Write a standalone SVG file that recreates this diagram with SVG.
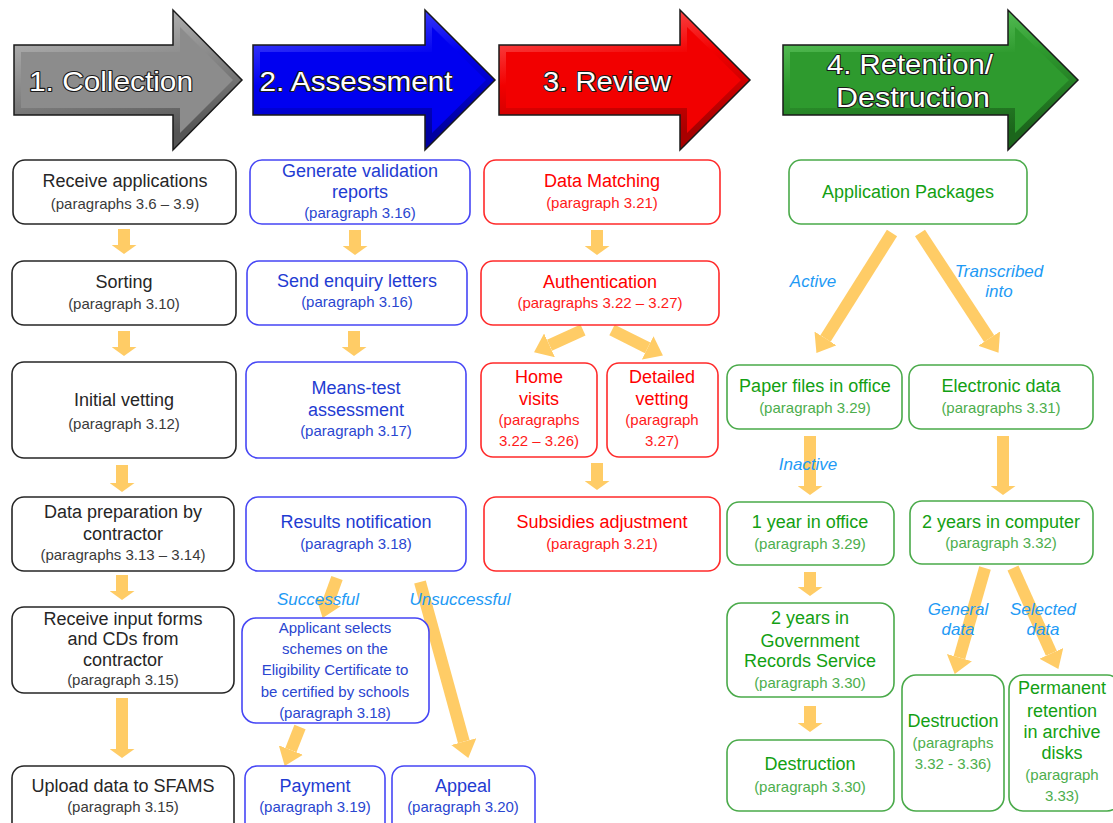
<svg xmlns="http://www.w3.org/2000/svg" width="1113" height="823" viewBox="0 0 1113 823">
<style>
.hd{font-family:"Liberation Sans",Arial,sans-serif;font-size:28px;fill:#fff;stroke:#1a1a1a;stroke-width:2.2px;paint-order:stroke;stroke-linejoin:round;text-anchor:middle}
.box{fill:#fff;stroke-width:1.6px}
.k .box{stroke:#262626}.b .box{stroke:#4646F5}.r .box{stroke:#FF2A2A}.g .box{stroke:#4AAA4A}
text{font-family:"Liberation Sans",Arial,sans-serif;text-anchor:middle}
.m{font-size:18px}.p{font-size:15px}
.k .m{fill:#262626}.k .p{fill:#3a3a3a}
.b .m{fill:#1F3CD2}.b .p{fill:#2A46D0}
.r .m{fill:#FF0000}.r .p{fill:#FF1A1A}
.g .m{fill:#13A013}.g .p{fill:#4DAE4D}
.lb{font-size:17px;font-style:italic;fill:#1E9AF5}
.ar{stroke:#FFCC66;stroke-width:12;fill:none}
</style>
<defs>
<marker id="ah" viewBox="0 -13 17 26" markerWidth="17" markerHeight="26" refX="0" refY="0" orient="auto" markerUnits="userSpaceOnUse"><path d="M0,-13 L17,0 L0,13 Z" fill="#FFCC66"/></marker>
<marker id="av" viewBox="0 -12.5 9 25" markerWidth="9" markerHeight="25" refX="0" refY="0" orient="auto" markerUnits="userSpaceOnUse"><path d="M0,-12.5 L9,0 L0,12.5 Z" fill="#FFCC66"/></marker>
<linearGradient id="gk" x1="0" y1="0" x2="0.3" y2="1"><stop offset="0" stop-color="#C4C4C4"/><stop offset="0.5" stop-color="#8C8C8C"/><stop offset="1" stop-color="#555"/></linearGradient>
<linearGradient id="gb" x1="0" y1="0" x2="0.3" y2="1"><stop offset="0" stop-color="#5A5AFF"/><stop offset="0.5" stop-color="#0000F0"/><stop offset="1" stop-color="#0000A0"/></linearGradient>
<linearGradient id="gr" x1="0" y1="0" x2="0.3" y2="1"><stop offset="0" stop-color="#FF6A6A"/><stop offset="0.5" stop-color="#F20000"/><stop offset="1" stop-color="#A80000"/></linearGradient>
<linearGradient id="gg" x1="0" y1="0" x2="0.3" y2="1"><stop offset="0" stop-color="#6FD46F"/><stop offset="0.5" stop-color="#2E9A2E"/><stop offset="1" stop-color="#1C661C"/></linearGradient>
</defs>

<g id="header1">
<path d="M14,45 H173 V10 L242,80 L173,150 V115 H14 Z" fill="url(#gk)" stroke="#1a1a1a" stroke-width="1.5"/>
<path d="M21,52 H180 V27 L233,80 L180,133 V108 H21 Z" fill="#8C8C8C"/>
<text class="hd" x="111" y="91" textLength="164" lengthAdjust="spacingAndGlyphs">1. Collection</text>
</g>
<g id="header2">
<path d="M253,45 H425 V10 L495,80 L425,150 V115 H253 Z" fill="url(#gb)" stroke="#1a1a1a" stroke-width="1.5"/>
<path d="M260,52 H432 V27 L486,80 L432,133 V108 H260 Z" fill="#0000F0"/>
<text class="hd" x="356" y="91" textLength="193" lengthAdjust="spacingAndGlyphs">2. Assessment</text>
</g>
<g id="header3">
<path d="M499,45 H680 V10 L750,80 L680,150 V115 H499 Z" fill="url(#gr)" stroke="#1a1a1a" stroke-width="1.5"/>
<path d="M506,52 H687 V27 L741,80 L687,133 V108 H506 Z" fill="#F20000"/>
<text class="hd" x="607" y="91" textLength="128" lengthAdjust="spacingAndGlyphs">3. Review</text>
</g>
<g id="header4">
<path d="M783,45 H1008 V10 L1078,80 L1008,150 V115 H783 Z" fill="url(#gg)" stroke="#1a1a1a" stroke-width="1.5"/>
<path d="M790,52 H1015 V27 L1069,80 L1015,133 V108 H790 Z" fill="#2E9A2E"/>
<text class="hd" x="910" y="74" textLength="166" lengthAdjust="spacingAndGlyphs">4. Retention/</text>
<text class="hd" x="913" y="107" textLength="154" lengthAdjust="spacingAndGlyphs">Destruction</text>
</g>

<g id="connectors">
<line class="ar" x1="124" y1="229" x2="124" y2="245" marker-end="url(#av)"/>
<line class="ar" x1="124" y1="331" x2="124" y2="347" marker-end="url(#av)"/>
<line class="ar" x1="122" y1="465" x2="122" y2="483" marker-end="url(#av)"/>
<line class="ar" x1="122" y1="575" x2="122" y2="591" marker-end="url(#av)"/>
<line class="ar" x1="122" y1="698" x2="122" y2="749" marker-end="url(#av)"/>
<line class="ar" x1="355" y1="230" x2="355" y2="246" marker-end="url(#av)"/>
<line class="ar" x1="354" y1="331" x2="354" y2="347" marker-end="url(#av)"/>
<line class="ar" x1="337" y1="578" x2="328.4" y2="601.9" marker-end="url(#ah)"/>
<line class="ar" x1="300" y1="727" x2="290.9" y2="750.1" marker-end="url(#ah)"/>
<line class="ar" x1="420" y1="582" x2="463.8" y2="741.6" marker-end="url(#ah)"/>
<line class="ar" x1="597" y1="230" x2="597" y2="246" marker-end="url(#av)"/>
<line class="ar" x1="583" y1="330" x2="549.5" y2="345.3" marker-end="url(#ah)"/>
<line class="ar" x1="612" y1="330" x2="647.7" y2="347.8" marker-end="url(#ah)"/>
<line class="ar" x1="597" y1="463" x2="597" y2="481" marker-end="url(#av)"/>
<line class="ar" x1="892" y1="233" x2="825.5" y2="338.5" marker-end="url(#ah)"/>
<line class="ar" x1="920" y1="233" x2="989.2" y2="338.6" marker-end="url(#ah)"/>
<line class="ar" x1="810" y1="436" x2="810" y2="486" marker-end="url(#av)"/>
<line class="ar" x1="1003" y1="436" x2="1003" y2="486" marker-end="url(#av)"/>
<line class="ar" x1="810" y1="572" x2="810" y2="587" marker-end="url(#av)"/>
<line class="ar" x1="810" y1="706" x2="810" y2="723" marker-end="url(#av)"/>
<line class="ar" x1="985" y1="568" x2="959.4" y2="657.6" marker-end="url(#ah)"/>
<line class="ar" x1="1013" y1="568" x2="1051.4" y2="653.4" marker-end="url(#ah)"/>
<text class="lb" x="318" y="605">Successful</text>
<text class="lb" x="460" y="605">Unsuccessful</text>
<text class="lb" x="813" y="287">Active</text>
<text class="lb" x="999" y="277">Transcribed</text>
<text class="lb" x="999" y="297">into</text>
<text class="lb" x="808" y="470">Inactive</text>
<text class="lb" x="958" y="615">General</text>
<text class="lb" x="958" y="635">data</text>
<text class="lb" x="1043" y="615">Selected</text>
<text class="lb" x="1043" y="635">data</text>
</g>

<g class="k">
<g id="receive-applications"><rect class="box" x="13" y="160" width="223" height="64" rx="12"/><text class="m" x="125" y="187">Receive applications</text><text class="p" x="125" y="209">(paragraphs 3.6 – 3.9)</text></g>
<g id="sorting"><rect class="box" x="12" y="261" width="224" height="64" rx="12"/><text class="m" x="124" y="288">Sorting</text><text class="p" x="124" y="309">(paragraph 3.10)</text></g>
<g id="initial-vetting"><rect class="box" x="12" y="362" width="224" height="96" rx="12"/><text class="m" x="124" y="406">Initial vetting</text><text class="p" x="124" y="429">(paragraph 3.12)</text></g>
<g id="data-preparation"><rect class="box" x="12" y="497" width="222" height="74" rx="12"/><text class="m" x="123" y="518">Data preparation by</text><text class="m" x="123" y="540">contractor</text><text class="p" x="123" y="560">(paragraphs 3.13 – 3.14)</text></g>
<g id="receive-input"><rect class="box" x="12" y="607" width="222" height="86" rx="12"/><text class="m" x="123" y="625">Receive input forms</text><text class="m" x="123" y="645">and CDs from</text><text class="m" x="123" y="666">contractor</text><text class="p" x="123" y="685">(paragraph 3.15)</text></g>
<g id="upload"><rect class="box" x="12" y="766" width="222" height="72" rx="12"/><text class="m" x="123" y="792">Upload data to SFAMS</text><text class="p" x="123" y="812">(paragraph 3.15)</text></g>
</g>

<g class="b">
<g id="generate-validation"><rect class="box" x="250" y="160" width="220" height="64" rx="12"/><text class="m" x="360" y="177">Generate validation</text><text class="m" x="360" y="198">reports</text><text class="p" x="360" y="218">(paragraph 3.16)</text></g>
<g id="send-enquiry"><rect class="box" x="247" y="261" width="220" height="64" rx="12"/><text class="m" x="357" y="287">Send enquiry letters</text><text class="p" x="357" y="307">(paragraph 3.16)</text></g>
<g id="means-test"><rect class="box" x="246" y="362" width="220" height="96" rx="12"/><text class="m" x="356" y="394">Means-test</text><text class="m" x="356" y="416">assessment</text><text class="p" x="356" y="436">(paragraph 3.17)</text></g>
<g id="results-notification"><rect class="box" x="246" y="497" width="220" height="74" rx="12"/><text class="m" x="356" y="528">Results notification</text><text class="p" x="356" y="549">(paragraph 3.18)</text></g>
<g id="applicant-selects"><rect class="box" x="242" y="618" width="187" height="105" rx="14"/><text class="p" x="335" y="633">Applicant selects</text><text class="p" x="335" y="654">schemes on the</text><text class="p" x="335" y="675">Eligibility Certificate to</text><text class="p" x="335" y="697">be certified by schools</text><text class="p" x="335" y="718">(paragraph 3.18)</text></g>
<g id="payment"><rect class="box" x="245" y="766" width="140" height="72" rx="12"/><text class="m" x="315" y="792">Payment</text><text class="p" x="315" y="812">(paragraph 3.19)</text></g>
<g id="appeal"><rect class="box" x="392" y="766" width="143" height="72" rx="12"/><text class="m" x="463" y="792">Appeal</text><text class="p" x="463" y="812">(paragraph 3.20)</text></g>
</g>

<g class="r">
<g id="data-matching"><rect class="box" x="484" y="160" width="236" height="64" rx="12"/><text class="m" x="602" y="187">Data Matching</text><text class="p" x="602" y="208">(paragraph 3.21)</text></g>
<g id="authentication"><rect class="box" x="481" y="261" width="238" height="64" rx="12"/><text class="m" x="600" y="288">Authentication</text><text class="p" x="600" y="308">(paragraphs 3.22 – 3.27)</text></g>
<g id="home-visits"><rect class="box" x="481" y="363" width="116" height="94" rx="12"/><text class="m" x="539" y="383">Home</text><text class="m" x="539" y="405">visits</text><text class="p" x="539" y="425">(paragraphs</text><text class="p" x="539" y="446">3.22 – 3.26)</text></g>
<g id="detailed-vetting"><rect class="box" x="607" y="363" width="111" height="94" rx="12"/><text class="m" x="662" y="383">Detailed</text><text class="m" x="662" y="405">vetting</text><text class="p" x="662" y="425">(paragraph</text><text class="p" x="662" y="446">3.27)</text></g>
<g id="subsidies-adjustment"><rect class="box" x="484" y="497" width="236" height="74" rx="12"/><text class="m" x="602" y="528">Subsidies adjustment</text><text class="p" x="602" y="549">(paragraph 3.21)</text></g>
</g>

<g class="g">
<g id="application-packages"><rect class="box" x="789" y="160" width="238" height="64" rx="12"/><text class="m" x="908" y="198">Application Packages</text></g>
<g id="paper-files"><rect class="box" x="727" y="365" width="175" height="64" rx="12"/><text class="m" x="815" y="392">Paper files in office</text><text class="p" x="815" y="413">(paragraph 3.29)</text></g>
<g id="electronic-data"><rect class="box" x="909" y="365" width="184" height="64" rx="12"/><text class="m" x="1001" y="392">Electronic data</text><text class="p" x="1001" y="413">(paragraphs 3.31)</text></g>
<g id="one-year-office"><rect class="box" x="727" y="502" width="167" height="63" rx="12"/><text class="m" x="810" y="528">1 year in office</text><text class="p" x="810" y="549">(paragraph 3.29)</text></g>
<g id="two-years-computer"><rect class="box" x="910" y="501" width="183" height="63" rx="12"/><text class="m" x="1001" y="528">2 years in computer</text><text class="p" x="1001" y="548">(paragraph 3.32)</text></g>
<g id="two-years-grs"><rect class="box" x="727" y="603" width="167" height="94" rx="14"/><text class="m" x="810" y="624">2 years in</text><text class="m" x="810" y="647">Government</text><text class="m" x="810" y="667">Records Service</text><text class="p" x="810" y="688">(paragraph 3.30)</text></g>
<g id="destruction-paper"><rect class="box" x="727" y="740" width="167" height="71" rx="12"/><text class="m" x="810" y="770">Destruction</text><text class="p" x="810" y="792">(paragraph 3.30)</text></g>
<g id="destruction-electronic"><rect class="box" x="902" y="675" width="102" height="136" rx="14"/><text class="m" x="953" y="727">Destruction</text><text class="p" x="953" y="748">(paragraphs</text><text class="p" x="953" y="769">3.32 - 3.36)</text></g>
<g id="permanent-retention"><rect class="box" x="1009" y="675" width="112" height="136" rx="14"/><text class="m" x="1062" y="694">Permanent</text><text class="m" x="1062" y="717">retention</text><text class="m" x="1062" y="738">in archive</text><text class="m" x="1062" y="759">disks</text><text class="p" x="1062" y="780">(paragraph</text><text class="p" x="1062" y="801">3.33)</text></g>
</g>
</svg>
